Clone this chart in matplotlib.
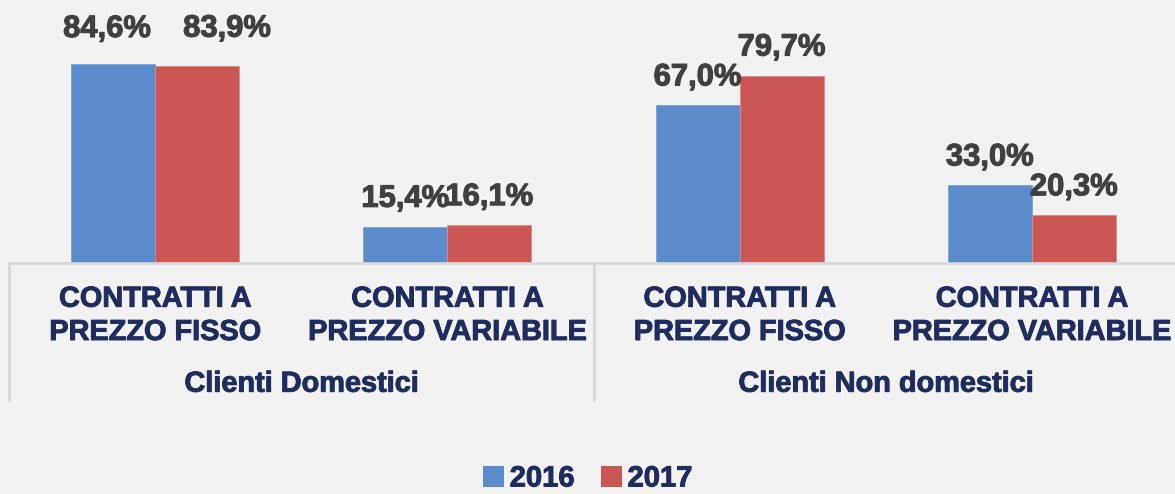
import matplotlib
matplotlib.use("Agg")
import matplotlib.pyplot as plt
import matplotlib.patheffects as pe
import numpy as np
from matplotlib.patches import Patch

# ---- data ----
categories = ["CONTRATTI A\nPREZZO FISSO", "CONTRATTI A\nPREZZO VARIABILE",
              "CONTRATTI A\nPREZZO FISSO", "CONTRATTI A\nPREZZO VARIABILE"]
groups = ["Clienti Domestici", "Clienti Non domestici"]
series_names = ["2016", "2017"]
values_2016 = [84.6, 15.4, 67.0, 33.0]
values_2017 = [83.9, 16.1, 79.7, 20.3]
labels_2016 = ["84,6%", "15,4%", "67,0%", "33,0%"]
labels_2017 = ["83,9%", "16,1%", "79,7%", "20,3%"]

# ---- style ----
BG = "#f2f2f2"
BLUE = "#5a8bca"
RED = "#cb5754"
NAVY = "#1f2d5e"
VAL = "#404040"
GRID = "#d9d9d9"
FONT = "Liberation Sans"

def thick(color, w=0.8):
    return [pe.Stroke(linewidth=w, foreground=color), pe.Normal()]

W, H = 1175, 494
fig = plt.figure(figsize=(W / 100, H / 100), dpi=100, facecolor=BG)
ax_left_px, ax_right_px = 9, 1178
base_px = 263  # from top
px_per_unit = 2.352
ymax = 100
ax_h_px = ymax * px_per_unit
ax = fig.add_axes([ax_left_px / W, (H - base_px) / H,
                   (ax_right_px - ax_left_px) / W, ax_h_px / H])
ax.set_facecolor(BG)
ax.patch.set_alpha(0)
ax.set_xlim(-0.5, 3.5)
ax.set_ylim(0, ymax)
for s in ax.spines.values():
    s.set_visible(False)
ax.set_xticks([])
ax.set_yticks([])

x = np.arange(len(categories))
bw = 0.2874
b1 = ax.bar(x - bw / 2, values_2016, bw, color=BLUE, edgecolor="#7aa3d6", linewidth=0.6, zorder=3)
b2 = ax.bar(x + bw / 2, values_2017, bw, color=RED, edgecolor="#e08a87", linewidth=0.6, zorder=3)

pt = 0.72  # points per pixel
# value labels (offsets in pixels: dx, dy)
off16 = [(-6, 27), (0, 20), (0, 20), (0, 20)]
off17 = [(30, 29), (0, 20), (0, 20), (0, 20)]
for i in range(len(categories)):
    ax.annotate(labels_2016[i], xy=(x[i] - bw / 2, values_2016[i]),
                xytext=(off16[i][0] * pt, off16[i][1] * pt), textcoords="offset points",
                ha="center", va="baseline", fontsize=22.3, fontweight="bold",
                color=VAL, family=FONT, zorder=5, path_effects=thick(VAL))
    ax.annotate(labels_2017[i], xy=(x[i] + bw / 2, values_2017[i]),
                xytext=(off17[i][0] * pt, off17[i][1] * pt), textcoords="offset points",
                ha="center", va="baseline", fontsize=22.3, fontweight="bold",
                color=VAL, family=FONT, zorder=5, path_effects=thick(VAL))

# axis line
ax.axhline(0, color=GRID, lw=2, zorder=4, clip_on=False)

# category labels (two lines)
line_offsets = [-43.7, -77]
for i, cat in enumerate(categories):
    for j, line in enumerate(cat.split("\n")):
        ax.annotate(line, xy=(x[i], 0), xycoords=("data", "axes fraction"),
                    xytext=(0, line_offsets[j] * pt), textcoords="offset points",
                    ha="center", va="baseline", fontsize=20.8, fontweight="bold",
                    color=NAVY, family=FONT, annotation_clip=False,
                    path_effects=thick(NAVY, 0.7))

# group labels
for g, name in enumerate(groups):
    ax.annotate(name, xy=(2 * g + 0.5, 0), xycoords=("data", "axes fraction"),
                xytext=(0, -128.7 * pt), textcoords="offset points",
                ha="center", va="baseline", fontsize=20.8, fontweight="bold",
                color=NAVY, family=FONT, annotation_clip=False,
                path_effects=thick(NAVY, 0.7))

# group separators
sep_len = (400 - base_px) / ax_h_px
trans = ax.get_xaxis_transform()
for xs in [-0.5, 1.5, 3.5]:
    ax.plot([xs, xs], [0, -sep_len], transform=trans, color=GRID, lw=2, clip_on=False)

# legend
handles = [Patch(facecolor=BLUE, edgecolor="none"), Patch(facecolor=RED, edgecolor="none")]
leg = fig.legend(handles, series_names, loc="lower center", bbox_to_anchor=(0.5, -0.05),
                 ncol=2, frameon=False, handlelength=0.72, handleheight=0.72,
                 handletextpad=0.2, columnspacing=0.9,
                 prop={"family": FONT, "weight": "bold", "size": 21})
for t in leg.get_texts():
    t.set_color(NAVY)
    t.set_path_effects(thick(NAVY, 0.7))

fig.savefig("out.png", dpi=100, facecolor=BG)
